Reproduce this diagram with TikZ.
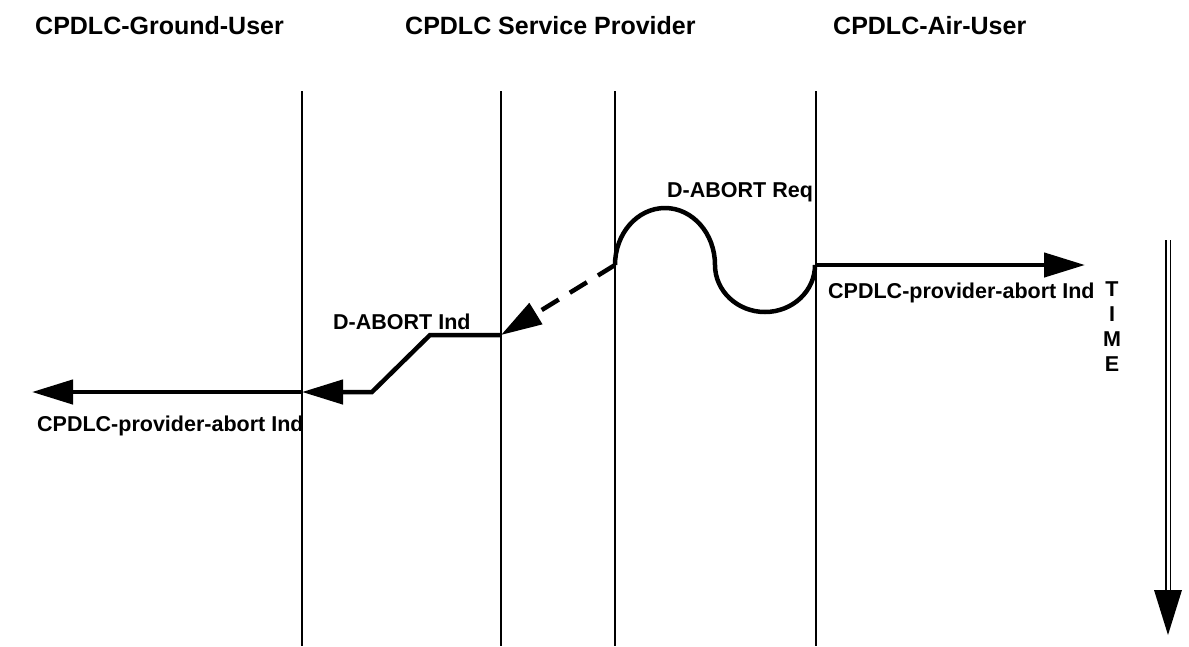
\documentclass[tikz,border=0pt]{standalone}
\usepackage{fontspec}
\setmainfont{Liberation Sans}
\usetikzlibrary{arrows.meta}
\begin{document}
\begin{tikzpicture}[x=1pt,y=-1pt,
  life/.style={line width=1.8pt},
  msg/.style={line width=4.5pt,-{Triangle[length=41pt,width=24pt]}},
  hump/.style={line width=4.5pt},
  ttl/.style={font=\fontsize{25}{30}\selectfont\bfseries,anchor=base west,inner sep=0pt},
  lbl/.style={font=\fontsize{21.5}{26}\selectfont\bfseries,anchor=base west,inner sep=0pt},
  tletter/.style={font=\fontsize{21.5}{26}\selectfont\bfseries,anchor=base,inner sep=0pt}]
\useasboundingbox (0,0) rectangle (1189,646);

% column headings
\node[ttl] (hGround) at (35,34) {CPDLC-Ground-User};
\node[ttl] (hProvider) at (405,34) {CPDLC Service Provider};
\node[ttl] (hAir) at (833,34) {CPDLC-Air-User};

% life lines
\coordinate (gT) at (302,91);  \coordinate (gB) at (302,646);
\coordinate (p1T) at (501,91); \coordinate (p1B) at (501,646);
\coordinate (p2T) at (615,91); \coordinate (p2B) at (615,646);
\coordinate (aT) at (816,91);  \coordinate (aB) at (816,646);
\draw[life] (gT) -- (gB);
\draw[life] (p1T) -- (p1B);
\draw[life] (p2T) -- (p2B);
\draw[life] (aT) -- (aB);

% key points of the exchange
\coordinate (reqStart) at (615,265);
\coordinate (reqEnd) at (816,265);
\coordinate (airTip) at (1085,265);
\coordinate (indIn) at (501,335);
\coordinate (bendA) at (430,335);
\coordinate (bendB) at (372,392);
\coordinate (gndIn) at (302,392);
\coordinate (gndTip) at (32,392);

% D-ABORT request: wave across the provider
\draw[hump] (reqStart)
  arc[start angle=180,end angle=360,x radius=50,y radius=57]
  arc[start angle=180,end angle=0,x radius=50,y radius=47];

% indication to the air user
\draw[msg] (reqEnd) -- (airTip);

% aborted path to the ground side
\draw[msg,dash pattern=on 20pt off 13pt] (reqStart) -- (indIn);
\draw[msg,line join=miter] (indIn) -- (bendA) -- (bendB) -- (gndIn);
\draw[msg] (gndIn) -- (gndTip);

% labels
\node[lbl] (lReq) at (667,197) {D-ABORT Req};
\node[lbl] (lInd) at (333,329) {D-ABORT Ind};
\node[lbl] (lAir) at (828,298) {CPDLC-provider-abort Ind};
\node[lbl] (lGnd) at (37,431) {CPDLC-provider-abort Ind};

% time axis
\node[tletter] (t1) at (1112,296) {T};
\node[tletter] (t2) at (1112,321) {I};
\node[tletter] (t3) at (1112,346) {M};
\node[tletter] (t4) at (1112,371) {E};
\coordinate (timeTop) at (1168,240);
\coordinate (timeBase) at (1168,592);
\draw[line width=1.8pt,double,double distance=3pt] (timeTop) -- (timeBase);
\fill (1154,590) -- (1182,590) -- (1168,635) -- cycle;
\end{tikzpicture}
\end{document}
